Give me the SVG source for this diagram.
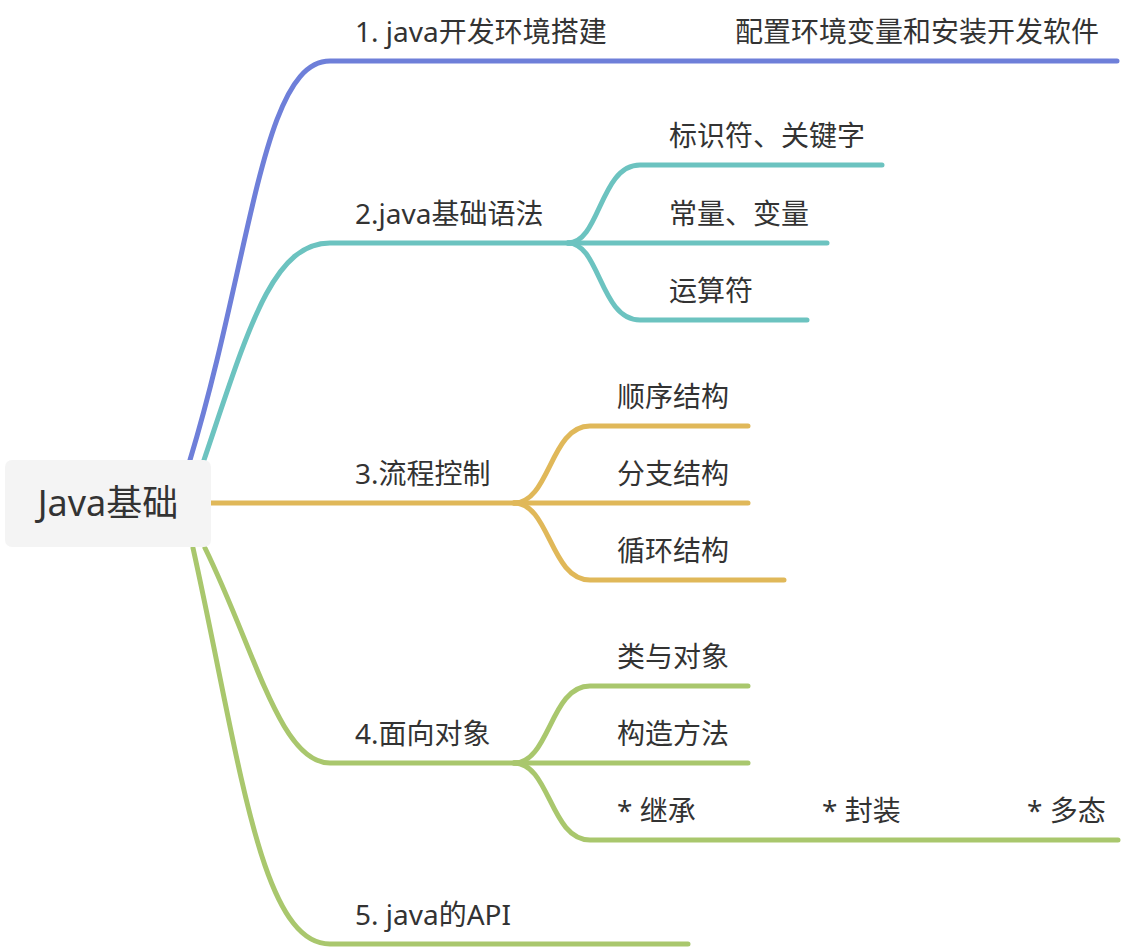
<svg xmlns="http://www.w3.org/2000/svg" width="1124" height="950" viewBox="0 0 1124 950">
<style>
  .t { font-family: "Noto Sans", "Noto Sans CJK SC", sans-serif; font-size: 28px; fill: #333333; }
  .root { font-family: "Noto Sans", "Noto Sans CJK SC", sans-serif; font-size: 36px; fill: #333333; }
  .c { fill: none; stroke-width: 5; stroke-linecap: round; stroke-linejoin: round; }
  .b1 { stroke: #6e7fd9; }
  .b2 { stroke: #6cc3c0; }
  .b3 { stroke: #e0b859; }
  .b4 { stroke: #a9c76d; }
</style>
<rect width="1124" height="950" fill="#ffffff"/>
<g id="connectors">
  <path class="c b1" d="M190,460 C252,255 262,61 330,61 L1117,61"/>
  <path class="c b2" d="M204,460 C248,330 272,243 330,243 L570,243"/>
  <path class="c b2" d="M568,243 C600,243 600,165 640,165 L882,165"/>
  <path class="c b2" d="M568,243 L827,243"/>
  <path class="c b2" d="M568,243 C600,243 600,320 640,320 L807,320"/>
  <path class="c b3" d="M211,503 L518,503"/>
  <path class="c b3" d="M514,503 C550,503 550,426 590,426 L748,426"/>
  <path class="c b3" d="M514,503 L748,503"/>
  <path class="c b3" d="M514,503 C550,503 550,580 590,580 L784,580"/>
  <path class="c b4" d="M205,548 C255,650 280,763 330,763 L518,763"/>
  <path class="c b4" d="M514,763 C550,763 550,686 590,686 L748,686"/>
  <path class="c b4" d="M514,763 L748,763"/>
  <path class="c b4" d="M514,763 C550,763 550,840 590,840 L1118,840"/>
  <path class="c b4" d="M193,548 C240,760 260,944 330,944 L688,944"/>
</g>
<g id="root">
  <rect x="5" y="460" width="206" height="87" rx="7" fill="#f4f4f4"/>
  <text class="root" x="108" y="516" text-anchor="middle">Java基础</text>
</g>
<g id="n1"><text class="t" x="355" y="42">1. java开发环境搭建</text></g>
<g id="n1a"><text class="t" x="735" y="42">配置环境变量和安装开发软件</text></g>
<g id="n2"><text class="t" x="355" y="224">2.java基础语法</text></g>
<g id="n2a"><text class="t" x="669" y="146">标识符、关键字</text></g>
<g id="n2b"><text class="t" x="669" y="224">常量、变量</text></g>
<g id="n2c"><text class="t" x="669" y="301">运算符</text></g>
<g id="n3"><text class="t" x="355" y="484">3.流程控制</text></g>
<g id="n3a"><text class="t" x="617" y="407">顺序结构</text></g>
<g id="n3b"><text class="t" x="617" y="484">分支结构</text></g>
<g id="n3c"><text class="t" x="617" y="561">循环结构</text></g>
<g id="n4"><text class="t" x="355" y="744">4.面向对象</text></g>
<g id="n4a"><text class="t" x="617" y="667">类与对象</text></g>
<g id="n4b"><text class="t" x="617" y="744">构造方法</text></g>
<g id="n4c"><text class="t" x="617" y="821">* 继承</text></g>
<g id="n4d"><text class="t" x="822" y="821">* 封装</text></g>
<g id="n4e"><text class="t" x="1027" y="821">* 多态</text></g>
<g id="n5"><text class="t" x="355" y="925">5. java的API</text></g>
</svg>
